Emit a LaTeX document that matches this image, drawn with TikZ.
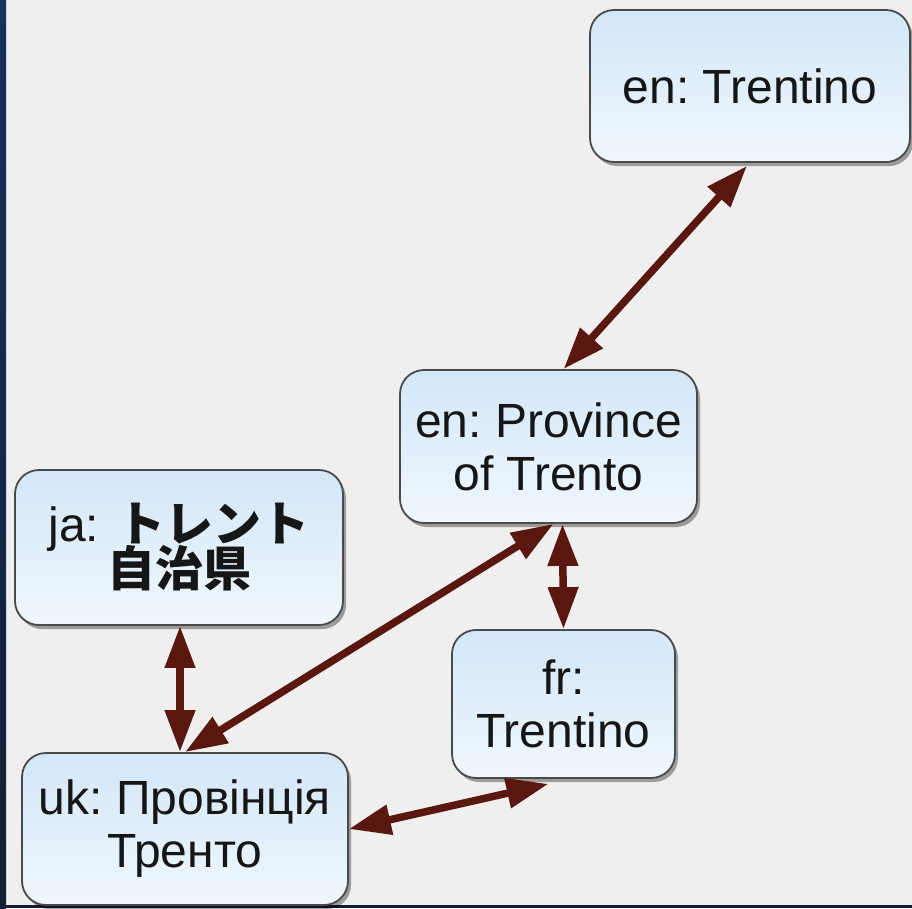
\documentclass[tikz,border=0pt]{standalone}
\usepackage{fontspec}
\setmainfont{Liberation Sans}
\newfontfamily\cjk{Noto Sans CJK JP}
\usetikzlibrary{arrows.meta,shadows}
\frenchspacing
\definecolor{bg}{HTML}{EFEFEF}
\definecolor{stripA}{HTML}{16315E}
\definecolor{stripB}{HTML}{121E36}
\definecolor{boxtop}{HTML}{D2E7F8}
\definecolor{boxbot}{HTML}{F0F7FD}
\definecolor{boxline}{HTML}{4A4A4A}
\definecolor{arrowc}{HTML}{5A170F}
\definecolor{textc}{HTML}{161616}
\begin{document}
\begin{tikzpicture}[x=1pt,y=-1pt,
  box/.style={draw=boxline, line width=1.8pt, rounded corners=24pt,
    top color=boxtop, bottom color=boxbot,
    drop shadow={shadow xshift=3pt, shadow yshift=-4pt, opacity=0.35, fill=black},
    align=center, font=\fontsize{48}{53}\selectfont\frenchspacing, text=textc, inner sep=0pt},
  arr/.style={draw=arrowc, line width=7.5pt,
    {Triangle[length=42pt,width=29pt]}-{Triangle[length=42pt,width=29pt]}}]
\useasboundingbox (0,0) rectangle (912,908);
\fill[bg] (0,0) rectangle (912,908);
\shade[top color=stripA, bottom color=stripB] (0,0) rectangle (6,908);
\fill[stripB] (0,905) rectangle (912,908);

\node[box, minimum width=320pt, minimum height=152pt] (ent) at (750,86) {en: Trentino};
\node[box, minimum width=297pt, minimum height=153pt] (prov) at (548.5,446.5) {en: Province\\of Trento};
\node[box, minimum width=223pt, minimum height=148pt] (fr) at (563.5,704) {fr:\\Trentino};
\node[box, minimum width=328pt, minimum height=155pt] (ja) at (179,547.5) {ja:\hspace*{18pt}{\cjk\bfseries トレント}\\[-8pt]{\cjk\bfseries 自治県}};
\node[box, minimum width=326pt, minimum height=152pt] (uk) at (185,829) {uk: Провінція\\Тренто};

\draw[arr] ([xshift=-3pt,yshift=-3pt]ent.south) -- ([xshift=15pt]prov.north);
\draw[arr] ([xshift=14pt]prov.south) -- (fr.north);
\draw[arr] ([xshift=5pt]prov.south) -- (uk.north);
\draw[arr] ([xshift=1pt]ja.south) -- ([xshift=-5pt]uk.north);
\draw[arr] (uk.east) -- ([xshift=-15pt,yshift=-5pt]fr.south);
\end{tikzpicture}
\end{document}
